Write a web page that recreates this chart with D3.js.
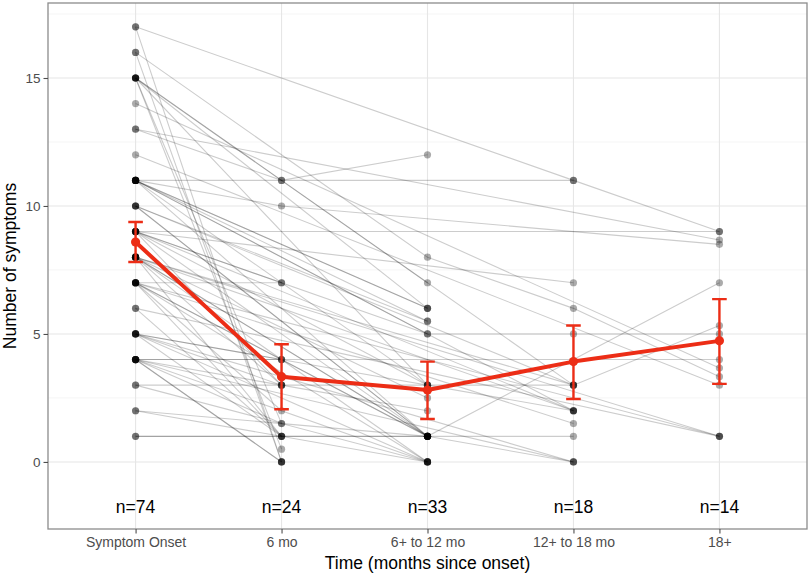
<!DOCTYPE html>
<html>
<head>
<meta charset="utf-8">
<script src="https://cdn.jsdelivr.net/npm/d3@7"></script>
<style>
  html, body { margin: 0; padding: 0; background: #fff; }
  svg { display: block; font-family: "Liberation Sans", Arial, Helvetica, sans-serif; }
</style>
</head>
<body>
<svg id="chart" width="810" height="578"></svg>
<script>
// ---------- data ----------
const categories = ["Symptom Onset", "6 mo", "6+ to 12 mo", "12+ to 18 mo", "18+"];
const nLabels = ["n=74", "n=24", "n=33", "n=18", "n=14"];
const yTicks = [0, 5, 10, 15];
const yMinorTicks = [2.5, 7.5, 12.5, 17.5];

// group means and interval bounds
const meanVals = [8.59, 3.33, 2.81, 3.92, 4.73];
const lowVals  = [7.81, 2.06, 1.68, 2.46, 3.05];
const highVals = [9.375, 4.60, 3.92, 5.33, 6.36];

// individual patients (one entry per patient, null = not measured)
const _ = null;
const onsetVals = [
  11,13,17,9,4,8,11,7,10,15,
  16,9,11,13,14,12,8,6,7,9,
  10,8,15,11,9,8,5,7,4,5,
  15,15,11,11,11,10,9,3,11,9,
  8,1,1,2,11,9,8,7,10,8,
  7,5,4,3,2,9,7,4,5,8,
  4,5,7,4,15,8,7,5,6,15,
  4,4,17,16];
const m6Vals = [
  11,11,_,_,4,_,_,_,_,_,
  _,3,10,_,_,_,_,_,_,_,
  _,_,_,_,_,_,_,_,_,_,
  _,_,_,_,_,_,_,_,_,_,
  _,_,_,_,_,_,_,_,_,_,
  _,_,_,_,_,7,7,4,4,3,
  3,3,2,1.5,1.5,1,1,1,1,0.5,
  0,0,0,0];
const m12Vals = [
  _,12,_,_,_,1,5,1,1,3,
  8,2,_,_,_,_,_,_,_,_,
  _,_,_,_,_,_,_,_,_,_,
  7,6,6,6,5.5,5.5,5,3,3,3,
  2.5,1,1,1,1,1,1,1,1,0,
  0,0,0,0,0,_,_,_,_,_,
  _,_,_,_,_,_,_,_,_,_,
  _,_,_,_];
const m18Vals = [
  11,_,11,_,_,_,5,1,0,3,
  6,_,_,_,_,_,_,_,_,7,
  3,3,3,2,2,2,2,1.5,0,0,
  _,_,_,_,_,_,_,_,_,_,
  _,_,_,_,_,_,_,_,_,_,
  _,_,_,_,_,_,_,_,_,_,
  _,_,_,_,_,_,_,_,_,_,
  _,_,_,_];
const m18pVals = [
  _,_,9,9,4,7,5,_,_,5.33,
  3.33,_,8.5,8.67,3.67,3,1,1,1,_,
  _,_,_,_,_,_,_,_,_,_,
  _,_,_,_,_,_,_,_,_,_,
  _,_,_,_,_,_,_,_,_,_,
  _,_,_,_,_,_,_,_,_,_,
  _,_,_,_,_,_,_,_,_,_,
  _,_,_,_];

// ---------- layout ----------
const W = 810, H = 578;
const P = { left: 48, right: 807, top: 3, bottom: 529 };
const svg = d3.select("#chart");

const x = d3.scalePoint().domain(categories).range([P.left, P.right]).padding(0.6);
const y = d3.scaleLinear().domain([-2.62, 17.93]).range([P.bottom, P.top]);

const cols = [onsetVals, m6Vals, m12Vals, m18Vals, m18pVals];
const patients = onsetVals.map((_, i) =>
  cols.map((c, j) => ({ cat: categories[j], v: c[i] })).filter(d => d.v !== null)
);

// panel background + grid
svg.append("rect").attr("x", P.left).attr("y", P.top)
  .attr("width", P.right - P.left).attr("height", P.bottom - P.top).attr("fill", "#fff");

const grid = svg.append("g");
grid.selectAll(".ymin").data(yMinorTicks).join("line")
  .attr("x1", P.left).attr("x2", P.right)
  .attr("y1", d => y(d)).attr("y2", d => y(d))
  .attr("stroke", "#f2f2f2").attr("stroke-width", 0.8);
grid.selectAll(".ymaj").data(yTicks).join("line")
  .attr("x1", P.left).attr("x2", P.right)
  .attr("y1", d => y(d)).attr("y2", d => y(d))
  .attr("stroke", "#e6e6e6").attr("stroke-width", 1.1);
grid.selectAll(".xmaj").data(categories).join("line")
  .attr("x1", d => x(d)).attr("x2", d => x(d))
  .attr("y1", P.top).attr("y2", P.bottom)
  .attr("stroke", "#e6e6e6").attr("stroke-width", 1.1);

// individual trajectories
const line = d3.line().x(d => x(d.cat)).y(d => y(d.v));
svg.append("g").selectAll("path").data(patients.filter(p => p.length > 1)).join("path")
  .attr("d", line).attr("fill", "none")
  .attr("stroke", "#000").attr("stroke-opacity", 0.2).attr("stroke-width", 1.1);

// individual points
svg.append("g").selectAll("circle").data(patients.flat()).join("circle")
  .attr("cx", d => x(d.cat)).attr("cy", d => y(d.v)).attr("r", 3.6)
  .attr("fill", "#000").attr("fill-opacity", 0.33);

// mean line, error bars, mean points
const red = "#ec2d16";
const summary = categories.map((c, i) => ({ cat: c, m: meanVals[i], lo: lowVals[i], hi: highVals[i] }));
const sg = svg.append("g");
sg.append("path").datum(summary)
  .attr("d", d3.line().x(d => x(d.cat)).y(d => y(d.m)))
  .attr("fill", "none").attr("stroke", red).attr("stroke-width", 4).attr("stroke-linejoin", "round");
const capW = 7.3;
sg.selectAll(".eb").data(summary).join("path")
  .attr("d", d => {
    const cx = x(d.cat), y1 = y(d.hi), y2 = y(d.lo);
    return `M${cx - capW},${y1}H${cx + capW}M${cx},${y1}V${y2}M${cx - capW},${y2}H${cx + capW}`;
  })
  .attr("fill", "none").attr("stroke", red).attr("stroke-width", 2.4);
sg.selectAll(".mp").data(summary).join("circle")
  .attr("cx", d => x(d.cat)).attr("cy", d => y(d.m)).attr("r", 4.6).attr("fill", red);

// n labels
svg.append("g").selectAll("text").data(categories).join("text")
  .attr("x", d => x(d)).attr("y", y(-1.76)).attr("dy", "0.36em")
  .attr("text-anchor", "middle").attr("font-size", 17.5).attr("fill", "#000")
  .text((d, i) => nLabels[i]);

// panel border
svg.append("rect").attr("x", P.left).attr("y", P.top)
  .attr("width", P.right - P.left).attr("height", P.bottom - P.top)
  .attr("fill", "none").attr("stroke", "#8c8c8c").attr("stroke-width", 1.3);

// axes
const yAxis = svg.append("g").attr("transform", `translate(${P.left},0)`)
  .call(d3.axisLeft(y).tickValues(yTicks).tickSize(4.5).tickPadding(3));
yAxis.select(".domain").remove();
yAxis.selectAll("line").attr("stroke", "#4d4d4d").attr("stroke-width", 1.1);
yAxis.selectAll("text").attr("font-size", 13.5).attr("fill", "#4d4d4d")
  .attr("font-family", "Liberation Sans, Arial, sans-serif");

const xAxis = svg.append("g").attr("transform", `translate(0,${P.bottom})`)
  .call(d3.axisBottom(x).tickSize(4.5).tickPadding(3.5));
xAxis.select(".domain").remove();
xAxis.selectAll("line").attr("stroke", "#4d4d4d").attr("stroke-width", 1.1);
xAxis.selectAll("text").attr("font-size", 14).attr("fill", "#4d4d4d")
  .attr("font-family", "Liberation Sans, Arial, sans-serif");

// axis titles
svg.append("text").attr("x", (P.left + P.right) / 2).attr("y", 569)
  .attr("text-anchor", "middle").attr("font-size", 17.5).attr("fill", "#000")
  .text("Time (months since onset)");
svg.append("text").attr("transform", `translate(15.5,${(P.top + P.bottom) / 2}) rotate(-90)`)
  .attr("text-anchor", "middle").attr("font-size", 17.5).attr("fill", "#000")
  .text("Number of symptoms");
</script>
</body>
</html>
